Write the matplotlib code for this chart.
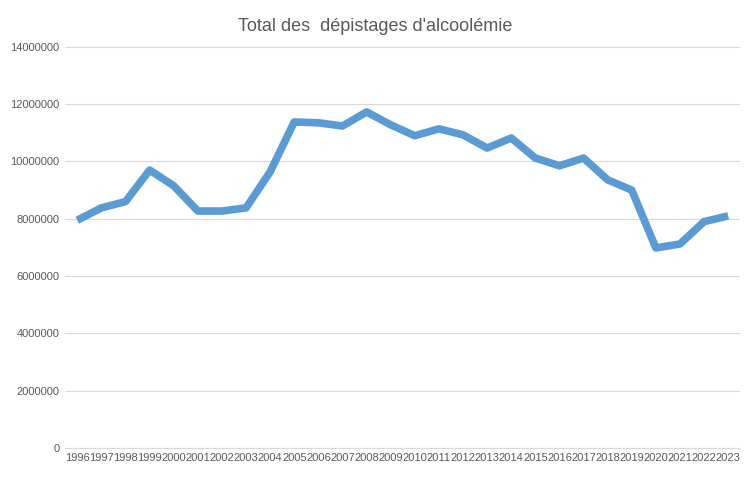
import matplotlib
matplotlib.use("Agg")
import matplotlib.pyplot as plt

years = [str(y) for y in range(1996, 2024)]
values = [7950000, 8380000, 8600000, 9700000, 9150000, 8270000, 8270000, 8380000,
          9640000, 11380000, 11350000, 11240000, 11730000, 11280000, 10900000, 11140000,
          10930000, 10470000, 10820000, 10120000, 9850000, 10120000, 9360000, 9000000,
          6980000, 7120000, 7900000, 8100000]

plt.rcParams['font.family'] = ['Liberation Sans', 'DejaVu Sans']
fig = plt.figure(figsize=(7.5, 4.79), dpi=100)
ax = fig.add_axes([0.087, 0.065, 0.9, 0.837])
x = list(range(len(years)))
ax.plot(x, values, color='#5B9BD5', linewidth=5.5, solid_joinstyle='round', solid_capstyle='butt')
ax.set_xlim(-0.5, len(years) - 0.5)
ax.set_ylim(0, 14000000)
ax.set_yticks(range(0, 14000001, 2000000))
ax.set_yticklabels([str(v) for v in range(0, 14000001, 2000000)], fontsize=8, color='#595959')
ax.set_xticks(x)
ax.set_xticklabels(years, fontsize=8, color='#595959')
ax.tick_params(length=0, pad=4)
ax.grid(axis='y', color='#D9D9D9', linewidth=0.8)
ax.set_axisbelow(True)
for s in ['top', 'right', 'left']:
    ax.spines[s].set_visible(False)
ax.spines['bottom'].set_color('#D9D9D9')
fig.text(0.5, 0.945, "Total des  dépistages d'alcoolémie", ha='center', va='center',
         fontsize=13, color='#595959')
fig.savefig('out.png', dpi=100)
